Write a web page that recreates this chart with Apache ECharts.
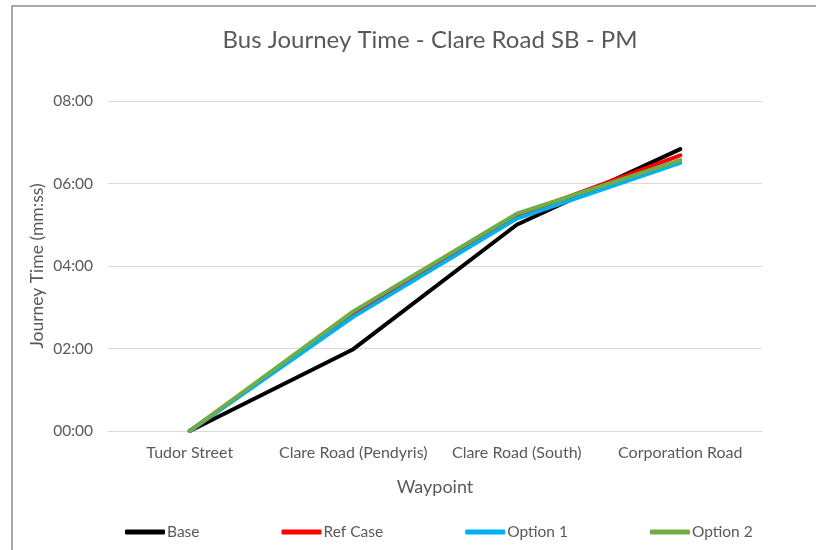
<!DOCTYPE html>
<html>
<head>
<meta charset="utf-8">
<script src="https://cdn.jsdelivr.net/npm/echarts@6/dist/echarts.min.js"></script>
<style>
  html, body { margin: 0; padding: 0; background: #fff; }
  #main { width: 816px; height: 550px; }
</style>
</head>
<body>
<div id="main"></div>
<script>
// waypoints along the route
var waypoints = ['Tudor Street', 'Clare Road (Pendyris)', 'Clare Road (South)', 'Corporation Road']
// cumulative journey time in seconds
var base = [0, 119, 300, 410]
var refCase = [0, 170, 313, 401]
var option1 = [0, 166, 309, 390]
var option2 = [0, 174, 316, 394]
var yTicks = [0, 120, 240, 360, 480]

function mmss (v) {
  var m = Math.floor(v / 60)
  var s = Math.round(v % 60)
  return (m < 10 ? '0' : '') + m + ':' + (s < 10 ? '0' : '') + s
}

var chart = echarts.init(document.getElementById('main'))
var font = 'Lato, "Open Sans", sans-serif'

function line (name, data, color) {
  return {
    name: name,
    type: 'line',
    data: data,
    showSymbol: false,
    symbol: 'none',
    lineStyle: { color: color, width: 4, cap: 'round', join: 'round' },
    itemStyle: { color: color },
    emphasis: { disabled: true }
  }
}

chart.setOption({
  animation: false,
  textStyle: { fontFamily: font },
  graphic: [{
    type: 'rect',
    shape: { x: 12, y: 6, width: 900, height: 700 },
    style: { fill: 'none', stroke: '#8c8c8c', lineWidth: 1.5 },
    silent: true
  }],
  title: {
    text: 'Bus Journey Time - Clare Road SB - PM',
    left: 425,
    textAlign: 'center',
    top: 23,
    textStyle: { fontFamily: font, fontSize: 24, fontWeight: 'normal', color: '#595959' }
  },
  legend: {
    bottom: 5,
    left: 120,
    itemGap: 82,
    itemWidth: 40,
    itemHeight: 5,
    icon: 'roundRect',
    textStyle: { fontFamily: font, fontSize: 15.5, color: '#595959', padding: [0, 0, 0, -3] },
    data: ['Base', 'Ref Case', 'Option 1', 'Option 2']
  },
  grid: { left: 108, right: 54, top: 101, bottom: 119 },
  xAxis: {
    type: 'category',
    data: waypoints,
    boundaryGap: true,
    name: 'Waypoint',
    nameLocation: 'middle',
    nameGap: 47,
    nameTextStyle: { fontFamily: font, fontSize: 18, color: '#595959' },
    axisLine: { lineStyle: { color: '#d9d9d9', width: 1 } },
    axisTick: { show: false },
    axisLabel: { fontFamily: font, fontSize: 16, color: '#595959', margin: 14, interval: 0 }
  },
  yAxis: {
    type: 'value',
    min: yTicks[0],
    max: yTicks[yTicks.length - 1],
    interval: 120,
    name: 'Journey Time (mm:ss)',
    nameLocation: 'middle',
    nameGap: 62,
    nameMoveOverlap: false,
    nameTextStyle: { fontFamily: font, fontSize: 17.5, color: '#595959' },
    axisLine: { show: false },
    axisTick: { show: false },
    axisLabel: { fontFamily: font, fontSize: 15.5, color: '#595959', margin: 15, formatter: mmss },
    splitLine: { lineStyle: { color: '#d9d9d9', width: 1 } }
  },
  series: [
    line('Base', base, '#000000'),
    line('Ref Case', refCase, '#ff0000'),
    line('Option 1', option1, '#00b0f0'),
    line('Option 2', option2, '#70ad47')
  ]
})
</script>
</body>
</html>
